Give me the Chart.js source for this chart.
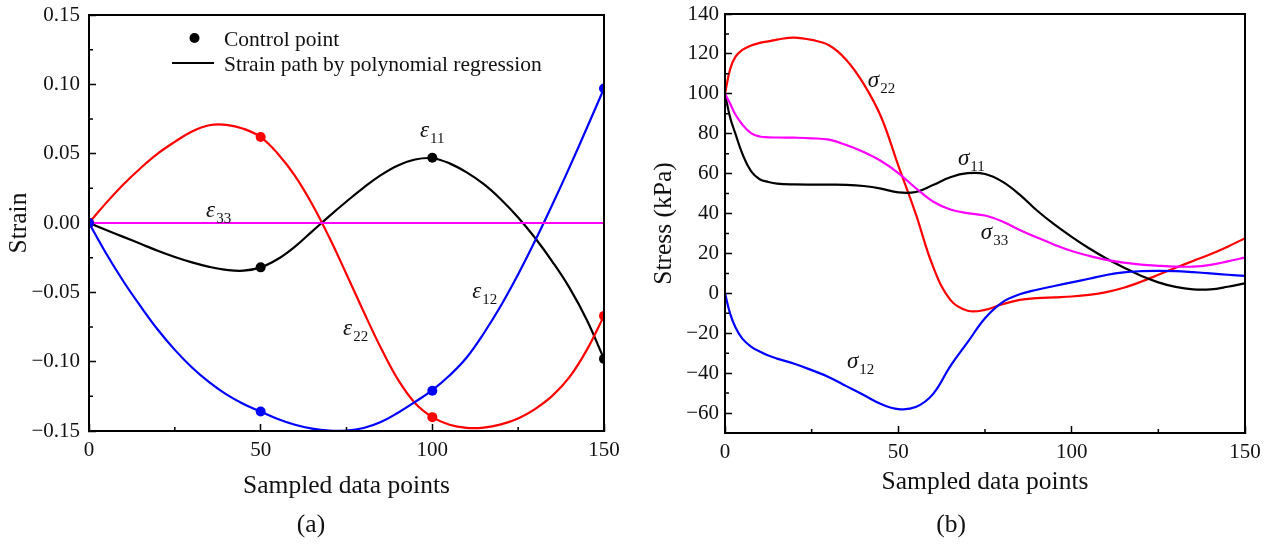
<!DOCTYPE html>
<html>
<head>
<meta charset="utf-8">
<script src="https://cdn.jsdelivr.net/npm/chart.js@4.4.0/dist/chart.umd.min.js"></script>
<style>
html,body{margin:0;padding:0;background:#fff;}
#wrap{position:relative;width:1275px;height:544px;}
#cvA{position:absolute;left:0;top:0;}
#cvB{position:absolute;left:640px;top:0;}
</style>
</head>
<body>
<div id="wrap">
  <canvas id="cvA" width="640" height="544"></canvas>
  <canvas id="cvB" width="635" height="544"></canvas>
</div>
<script>
// ===================== DATA =====================
// (a) strain paths, sampled every 5 points
const xA     = [0,5,10,15,20,25,30,35,40,45,50,55,60,65,70,75,80,85,90,95,100,105,110,115,120,125,130,135,140,145,150];
const eps11  = [0,-0.005,-0.010,-0.015,-0.020,-0.0245,-0.0284,-0.0316,-0.0338,-0.0344,-0.032,-0.026,-0.017,-0.006,0.005,0.0155,0.0255,0.0345,0.0415,0.0458,0.0467,0.043,0.0365,0.028,0.017,0.004,-0.011,-0.028,-0.047,-0.070,-0.098];
const eps22  = [0,0.0145,0.0278,0.0395,0.0500,0.0585,0.0660,0.0705,0.0708,0.0680,0.062,0.050,0.034,0.0135,-0.0105,-0.037,-0.064,-0.090,-0.113,-0.130,-0.140,-0.1455,-0.1477,-0.1475,-0.1452,-0.141,-0.134,-0.1245,-0.111,-0.0915,-0.067];
const eps12  = [0,-0.022,-0.042,-0.060,-0.0768,-0.0915,-0.1042,-0.1148,-0.1236,-0.1305,-0.136,-0.1413,-0.1455,-0.1483,-0.1497,-0.1497,-0.1478,-0.1435,-0.1368,-0.1290,-0.1205,-0.1100,-0.0970,-0.0795,-0.0595,-0.0370,-0.0125,0.0135,0.0405,0.0685,0.097];
const eps33  = [0,0,0,0,0,0,0,0,0,0,0,0,0,0,0,0,0,0,0,0,0,0,0,0,0,0,0,0,0,0,0];
// control points
const ctrlX  = [0,50,100,150];
const ctrl11 = [0,-0.032,0.047,-0.098];
const ctrl22 = [0,0.062,-0.140,-0.067];
const ctrl12 = [0,-0.136,-0.121,0.097];

// (b) stress response
const xB     = [0,1.5,3,5,7.5,10,12.5,15,20,25,30,35,40,45,50,55,60,65,70,75,80,85,90,95,100,105,110,115,120,125,130,135,140,145,150];
const sig22  = [100,112.5,118.5,122,124.2,125.5,126.3,127.2,128.2,127,124.3,117,105,88.5,64,40,13.5,-3.3,-8.7,-8.3,-5.5,-3.3,-2.4,-2,-1.6,-0.8,0.6,2.8,5.8,9.3,12.8,16.2,19.6,23.4,27.6];
const sig11  = [100,88,80,70,61.2,57.2,55.8,55,54.6,54.5,54.5,54.4,53.8,52.5,50.6,50.8,54.3,58.2,60.2,59.8,56,49.5,41.5,34.5,28.3,22.6,17.5,13,8.8,5.5,3.2,2,2,3.3,5];
const sig33  = [100,95,89.6,84.6,80.3,78.6,78.2,78.1,78,77.7,77,74.3,70.8,66.3,60.3,52.8,46,42,40.2,39,36,31.8,28,24.4,21.2,18.8,16.8,15.4,14.4,13.8,13.4,13.4,14.3,16,17.9];
const sig12  = [0,-10.3,-17,-22.7,-26.7,-29.2,-31.2,-32.7,-35.3,-38.5,-42,-46.5,-51,-55.5,-58,-57,-50.5,-36.5,-24.5,-12.5,-4.5,-0.5,1.8,3.7,5.5,7.3,9.2,10.5,11.1,11.3,11.1,10.6,10,9.3,8.7];

// ticks
const xTicks   = [0,50,100,150];
const xMinor   = [25,75,125];
const yTicksA  = [-0.15,-0.10,-0.05,0,0.05,0.10,0.15];
const yMinorA  = [-0.125,-0.075,-0.025,0.025,0.075,0.125];
const yTicksB  = [-60,-40,-20,0,20,40,60,80,100,120,140];
const yMinorB  = [-50,-30,-10,10,30,50,70,90,110,130];

// curve labels (data coords of the baseline-left corner)
const notesA = [
  {sym:'ε', sub:'11', x:96.4, y:0.062},
  {sym:'ε', sub:'33', x:34.1, y:0.0043},
  {sym:'ε', sub:'22', x:74.0, y:-0.0808},
  {sym:'ε', sub:'12', x:111.6, y:-0.0541}
];
const notesB = [
  {sym:'σ', sub:'22', x:41.2, y:103.4},
  {sym:'σ', sub:'11', x:67.2, y:64.3},
  {sym:'σ', sub:'33', x:73.8, y:27.2},
  {sym:'σ', sub:'12', x:35.2, y:-37.4}
];
const legendLabels = ['Control point','Strain path by polynomial regression'];

// ===================== STYLE =====================
const BLACK='#000000', RED='#ff0000', BLUE='#0000ff', MAGENTA='#ff00ff', INK='#111111';
const SERIF='"Liberation Serif","Times New Roman",serif';
Chart.defaults.font.family = SERIF;
Chart.defaults.color = INK;

function toXY(xs, ys){ return xs.map((x,i)=>({x, y:ys[i]})); }
function curve(xs, ys, color){
  return {type:'line', data:toXY(xs,ys), borderColor:color, borderWidth:2.2, pointRadius:0,
          tension:0.4, fill:false, order:1};
}
function dots(xs, ys, color){
  return {type:'scatter', data:toXY(xs,ys), backgroundColor:color, pointBackgroundColor:color,
          pointRadius:5, pointBorderWidth:0, showLine:false, order:0};
}
function minus(s){ return String(s).replace('-','\u2212'); }
// drop the half-label padding that Chart.js reserves, so the plot box sits where we want it
function noPad(s){ s.paddingTop=0; s.paddingBottom=0; s.paddingLeft=0; s.paddingRight=0; }

function axisX(height, titlePad){
  return {
    type:'linear', min:0, max:150,
    afterBuildTicks: s => { s.ticks = xTicks.map(v=>({value:v})); },
    afterFit: s => { s.height = height; noPad(s); },
    grid:{drawOnChartArea:false, drawTicks:true, tickLength:-7, tickColor:BLACK, tickWidth:1.5},
    border:{display:true, color:BLACK, width:2},
    ticks:{color:INK, font:{size:21}, padding:14, maxRotation:0, autoSkip:false},
    title:{display:true, text:'Sampled data points', color:INK, font:{size:25.5}, padding:{top:0,bottom:titlePad}}
  };
}
function axisY(min, max, ticks, width, labelPad, title, titlePad, fmt){
  return {
    type:'linear', min, max,
    afterBuildTicks: s => { s.ticks = ticks.map(v=>({value:v})); },
    afterFit: s => { s.width = width; noPad(s); },
    grid:{drawOnChartArea:false, drawTicks:true, tickLength:-7, tickColor:BLACK, tickWidth:1.5},
    border:{display:true, color:BLACK, width:2},
    ticks:{color:INK, font:{size:21}, padding:labelPad, autoSkip:false, callback:fmt},
    title:{display:true, text:title, color:INK, font:{size:25.5}, padding:{top:titlePad,bottom:0}}
  };
}

// frame, minor ticks, curve labels, panel tag, legend
function makeDecor(cfg){
  return {
    id:'decor',
    afterDraw(chart){
      const {ctx, chartArea:a} = chart;
      const sx = chart.scales.x, sy = chart.scales.y;
      ctx.save();
      ctx.strokeStyle = BLACK;
      ctx.lineWidth = 2;
      ctx.strokeRect(a.left, a.top, a.right-a.left, a.bottom-a.top);
      ctx.lineWidth = 1.5;
      ctx.beginPath();
      cfg.minorX.forEach(v=>{ const p=sx.getPixelForValue(v); ctx.moveTo(p,a.bottom); ctx.lineTo(p,a.bottom-4); });
      cfg.minorY.forEach(v=>{ const p=sy.getPixelForValue(v); ctx.moveTo(a.left,p); ctx.lineTo(a.left+4,p); });
      ctx.stroke();

      ctx.fillStyle = INK;
      ctx.textAlign = 'left';
      ctx.textBaseline = 'alphabetic';
      cfg.notes.forEach(n=>{
        const px = sx.getPixelForValue(n.x), py = sy.getPixelForValue(n.y);
        ctx.font = 'italic 23px '+SERIF;
        ctx.fillText(n.sym, px, py);
        const w = ctx.measureText(n.sym).width;
        ctx.font = '15px '+SERIF;
        ctx.fillText(n.sub, px+w+1, py+6);
      });

      ctx.font = '25.5px '+SERIF;
      ctx.textAlign = 'center';
      ctx.textBaseline = 'middle';
      ctx.fillText(cfg.tag, 311, 525);

      if(cfg.legend){
        ctx.fillStyle = BLACK;
        ctx.beginPath(); ctx.arc(194.5, 38, 5, 0, Math.PI*2); ctx.fill();
        ctx.lineWidth = 2.2;
        ctx.beginPath(); ctx.moveTo(172, 63); ctx.lineTo(214, 63); ctx.stroke();
        ctx.fillStyle = INK;
        ctx.font = '21.5px '+SERIF;
        ctx.textAlign = 'left';
        ctx.textBaseline = 'alphabetic';
        ctx.fillText(cfg.legend[0], 224, 45.5);
        ctx.fillText(cfg.legend[1], 224, 71);
      }
      ctx.restore();
    }
  };
}

const common = {responsive:false, animation:false, devicePixelRatio:1,
  plugins:{legend:{display:false}, tooltip:{enabled:false}}};

// ===================== (a) STRAIN =====================
new Chart(document.getElementById('cvA'), {
  type:'line',
  data:{datasets:[
    dots(ctrlX, ctrl12, BLUE), dots(ctrlX, ctrl22, RED), dots(ctrlX, ctrl11, BLACK),
    curve(xA, eps33, MAGENTA), curve(xA, eps12, BLUE), curve(xA, eps22, RED), curve(xA, eps11, BLACK)
  ]},
  options:{...common,
    layout:{padding:{top:15, right:36, bottom:0, left:0}},
    scales:{
      x: axisX(113, 42),
      y: axisY(-0.15, 0.15, yTicksA, 89, 16, 'Strain', 4,
               v => minus(Math.abs(v)<1e-9 ? '0.00' : v.toFixed(2)))
    }
  },
  plugins:[makeDecor({minorX:xMinor, minorY:yMinorA, notes:notesA, tag:'(a)', legend:legendLabels})]
});

// ===================== (b) STRESS =====================
new Chart(document.getElementById('cvB'), {
  type:'line',
  data:{datasets:[
    curve(xB, sig12, BLUE), curve(xB, sig33, MAGENTA), curve(xB, sig11, BLACK), curve(xB, sig22, RED)
  ]},
  options:{...common,
    layout:{padding:{top:14, right:30, bottom:0, left:0}},
    scales:{
      x: axisX(111, 46),
      y: axisY(-70, 140, yTicksB, 85, 13, 'Stress (kPa)', 9, v => minus(v))
    }
  },
  plugins:[makeDecor({minorX:xMinor, minorY:yMinorB, notes:notesB, tag:'(b)'})]
});
</script>
</body>
</html>
